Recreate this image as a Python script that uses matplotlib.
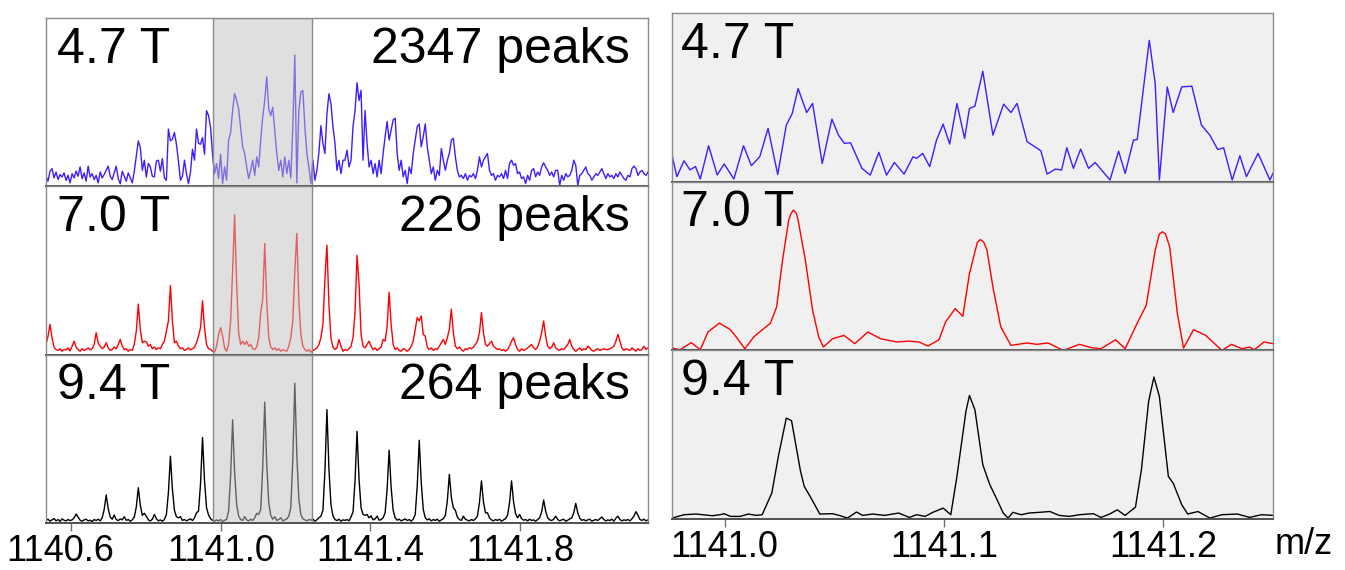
import numpy as np
import matplotlib.pyplot as plt
from matplotlib.transforms import ScaledTranslation

plt.rcParams['font.family'] = ['Liberation Sans', 'DejaVu Sans']

field_labels = ['4.7 T', '7.0 T', '9.4 T']
peak_counts = ['2347 peaks', '226 peaks', '264 peaks']
trace_colors = ['#3c1eff', '#ff0000', '#000000']

left_ticks = [1140.6, 1141.0, 1141.4, 1141.8]
right_ticks = [1141.0, 1141.1, 1141.2]
left_range = (1140.532, 1142.143)
right_range = (1140.976, 1141.250)
zoom_window = (1140.980, 1141.245)

int_47 = [
    0.060, 0.030, 0.090, 0.105, 0.050, 0.085, 0.040, 0.070, 0.055, 0.080,
    0.035, 0.065, 0.020, 0.075, 0.050, 0.090, 0.060, 0.115, 0.045, 0.080,
    0.030, 0.120, 0.055, 0.075, 0.040, 0.065, 0.020, 0.085, 0.050, 0.070,
    0.095, 0.120, 0.060, 0.040, 0.080, 0.120, 0.045, 0.015, 0.090, 0.060,
    0.030, 0.080, 0.050, 0.020, 0.090, 0.180, 0.270, 0.230, 0.095, 0.155,
    0.055, 0.135, 0.115, 0.060, 0.056, 0.150, 0.155, 0.090, 0.165, 0.050,
    0.036, 0.340, 0.270, 0.280, 0.320, 0.250, 0.150, 0.036, 0.060, 0.155,
    0.075, 0.016, 0.085, 0.220, 0.155, 0.340, 0.255, 0.250, 0.290, 0.190,
    0.450, 0.420, 0.350, 0.190, 0.075, 0.135, 0.046, 0.190, 0.016, 0.115,
    0.036, 0.275, 0.320, 0.450, 0.550, 0.510, 0.460, 0.350, 0.235, 0.195,
    0.115, 0.046, 0.095, 0.155, 0.065, 0.175, 0.115, 0.275, 0.410, 0.510,
    0.650, 0.460, 0.420, 0.470, 0.335, 0.195, 0.095, 0.155, 0.056, 0.175,
    0.075, 0.155, 0.050, 0.350, 0.780, 0.020, 0.450, 0.560, 0.570, 0.355,
    0.195, 0.115, 0.016, 0.155, 0.036, 0.095, 0.200, 0.360, 0.255, 0.195,
    0.430, 0.550, 0.490, 0.355, 0.255, 0.095, 0.155, 0.075, 0.155, 0.155,
    0.215, 0.115, 0.155, 0.355, 0.450, 0.615, 0.510, 0.570, 0.155, 0.450,
    0.255, 0.115, 0.155, 0.075, 0.135, 0.056, 0.155, 0.075, 0.195, 0.295,
    0.385, 0.275, 0.335, 0.395, 0.405, 0.195, 0.095, 0.155, 0.056, 0.095,
    0.016, 0.115, 0.075, 0.195, 0.275, 0.355, 0.370, 0.235, 0.295, 0.370,
    0.235, 0.155, 0.075, 0.115, 0.036, 0.095, 0.065, 0.225, 0.155, 0.095,
    0.155, 0.195, 0.275, 0.285, 0.175, 0.095, 0.056, 0.065, 0.046, 0.075,
    0.036, 0.065, 0.056, 0.075, 0.046, 0.095, 0.175, 0.115, 0.155, 0.175,
    0.195, 0.095, 0.065, 0.075, 0.036, 0.065, 0.056, 0.075, 0.046, 0.095,
    0.046, 0.135, 0.155, 0.125, 0.135, 0.075, 0.085, 0.046, 0.056, 0.016,
    0.065, 0.036, 0.095, 0.105, 0.056, 0.085, 0.065, 0.115, 0.140, 0.115,
    0.095, 0.065, 0.085, 0.056, 0.095, 0.095, 0.006, 0.065, 0.036, 0.075,
    0.056, 0.065, 0.095, 0.155, 0.125, 0.006, 0.065, 0.075, 0.095, 0.115,
    0.075, 0.065, 0.036, 0.056, 0.075, 0.065, 0.085, 0.105, 0.075, 0.046,
    0.075, 0.056, 0.065, 0.046, 0.075, 0.056, 0.085, 0.065, 0.046, 0.036,
    0.065, 0.056, 0.105, 0.120, 0.105, 0.065, 0.085, 0.095, 0.075, 0.065,
    0.085,
]
int_70 = [
    0.060, 0.110, 0.180, 0.100, 0.045, 0.030, 0.025, 0.035, 0.020, 0.030,
    0.028, 0.040, 0.022, 0.050, 0.080, 0.045, 0.030, 0.020, 0.035, 0.025,
    0.030, 0.040, 0.028, 0.035, 0.060, 0.130, 0.070, 0.050, 0.035, 0.045,
    0.070, 0.040, 0.025, 0.030, 0.045, 0.035, 0.060, 0.090, 0.050, 0.030,
    0.035, 0.020, 0.030, 0.025, 0.060, 0.140, 0.300, 0.150, 0.070, 0.080,
    0.075, 0.050, 0.060, 0.035, 0.045, 0.030, 0.040, 0.035, 0.060, 0.080,
    0.140, 0.200, 0.410, 0.200, 0.070, 0.080, 0.050, 0.035, 0.040, 0.025,
    0.030, 0.040, 0.028, 0.035, 0.045, 0.070, 0.110, 0.160, 0.320, 0.160,
    0.060, 0.035, 0.030, 0.020, 0.015, 0.050, 0.120, 0.160, 0.110, 0.040,
    0.020, 0.060, 0.200, 0.500, 0.830, 0.420, 0.130, 0.060, 0.080, 0.060,
    0.080, 0.050, 0.060, 0.035, 0.030, 0.045, 0.100, 0.250, 0.330, 0.660,
    0.320, 0.100, 0.045, 0.030, 0.040, 0.025, 0.035, 0.020, 0.030, 0.025,
    0.020, 0.050, 0.100, 0.200, 0.500, 0.720, 0.320, 0.120, 0.050, 0.030,
    0.020, 0.030, 0.015, 0.025, 0.030, 0.040, 0.060, 0.100, 0.180, 0.450,
    0.650, 0.300, 0.100, 0.045, 0.030, 0.040, 0.090, 0.050, 0.020, 0.030,
    0.025, 0.035, 0.050, 0.100, 0.250, 0.590, 0.420, 0.120, 0.050, 0.040,
    0.060, 0.080, 0.050, 0.030, 0.040, 0.025, 0.035, 0.045, 0.090, 0.080,
    0.170, 0.370, 0.180, 0.060, 0.030, 0.040, 0.025, 0.020, 0.035, 0.030,
    0.020, 0.030, 0.050, 0.080, 0.150, 0.220, 0.200, 0.230, 0.120, 0.110,
    0.045, 0.030, 0.040, 0.025, 0.035, 0.030, 0.050, 0.070, 0.090, 0.060,
    0.100, 0.150, 0.270, 0.130, 0.050, 0.035, 0.045, 0.030, 0.020, 0.035,
    0.030, 0.040, 0.035, 0.045, 0.060, 0.080, 0.130, 0.250, 0.130, 0.060,
    0.050, 0.065, 0.080, 0.050, 0.040, 0.030, 0.035, 0.025, 0.030, 0.020,
    0.030, 0.050, 0.080, 0.100, 0.060, 0.030, 0.020, 0.035, 0.025, 0.030,
    0.040, 0.050, 0.060, 0.040, 0.030, 0.045, 0.080, 0.130, 0.200, 0.110,
    0.050, 0.035, 0.045, 0.070, 0.040, 0.030, 0.025, 0.035, 0.030, 0.045,
    0.060, 0.090, 0.050, 0.030, 0.020, 0.030, 0.040, 0.025, 0.035, 0.030,
    0.050, 0.040, 0.025, 0.020, 0.030, 0.035, 0.025, 0.030, 0.035, 0.030,
    0.030, 0.035, 0.040, 0.050, 0.080, 0.120, 0.080, 0.040, 0.025, 0.035,
    0.030, 0.025, 0.040, 0.030, 0.020, 0.035, 0.025, 0.030, 0.050, 0.030,
    0.040,
]
int_94 = [
    0.015, 0.022, 0.010, 0.018, 0.026, 0.012, 0.020, 0.009, 0.024, 0.016,
    0.012, 0.020, 0.014, 0.018, 0.030, 0.053, 0.034, 0.016, 0.010, 0.018,
    0.022, 0.012, 0.016, 0.008, 0.020, 0.014, 0.022, 0.012, 0.030, 0.080,
    0.166, 0.085, 0.035, 0.022, 0.047, 0.020, 0.014, 0.024, 0.018, 0.037,
    0.015, 0.020, 0.010, 0.018, 0.035, 0.095, 0.209, 0.105, 0.045, 0.057,
    0.040, 0.018, 0.012, 0.022, 0.050, 0.025, 0.012, 0.018, 0.010, 0.020,
    0.050, 0.180, 0.396, 0.200, 0.075, 0.037, 0.030, 0.037, 0.015, 0.020,
    0.012, 0.018, 0.024, 0.014, 0.030, 0.060, 0.070, 0.230, 0.507, 0.250,
    0.090, 0.047, 0.025, 0.015, 0.010, 0.018, 0.012, 0.020, 0.008, 0.016,
    0.020, 0.070, 0.280, 0.613, 0.300, 0.110, 0.040, 0.020, 0.015, 0.037,
    0.018, 0.012, 0.022, 0.015, 0.030, 0.057, 0.050, 0.080, 0.330, 0.718,
    0.350, 0.120, 0.045, 0.022, 0.037, 0.015, 0.020, 0.030, 0.012, 0.018,
    0.024, 0.040, 0.090, 0.380, 0.830, 0.400, 0.140, 0.050, 0.025, 0.018,
    0.012, 0.020, 0.016, 0.024, 0.010, 0.018, 0.030, 0.040, 0.075, 0.310,
    0.673, 0.320, 0.110, 0.040, 0.020, 0.014, 0.022, 0.010, 0.018, 0.015,
    0.020, 0.012, 0.035, 0.065, 0.250, 0.544, 0.260, 0.090, 0.050, 0.045,
    0.050, 0.030, 0.042, 0.018, 0.024, 0.040, 0.016, 0.020, 0.030, 0.060,
    0.200, 0.432, 0.210, 0.075, 0.030, 0.016, 0.022, 0.012, 0.018, 0.024,
    0.014, 0.020, 0.010, 0.022, 0.050, 0.220, 0.491, 0.240, 0.080, 0.030,
    0.018, 0.024, 0.012, 0.020, 0.015, 0.022, 0.010, 0.018, 0.025, 0.045,
    0.130, 0.288, 0.150, 0.090, 0.075, 0.035, 0.020, 0.015, 0.040, 0.022,
    0.016, 0.012, 0.020, 0.014, 0.025, 0.040, 0.120, 0.250, 0.125, 0.060,
    0.060, 0.030, 0.018, 0.012, 0.020, 0.015, 0.022, 0.010, 0.018, 0.025,
    0.045, 0.120, 0.250, 0.125, 0.055, 0.030, 0.050, 0.025, 0.016, 0.020,
    0.012, 0.022, 0.015, 0.018, 0.010, 0.020, 0.030, 0.065, 0.136, 0.070,
    0.030, 0.018, 0.014, 0.022, 0.040, 0.020, 0.012, 0.018, 0.022, 0.010,
    0.016, 0.024, 0.030, 0.060, 0.116, 0.060, 0.028, 0.015, 0.020, 0.012,
    0.018, 0.022, 0.010, 0.016, 0.020, 0.014, 0.025, 0.035, 0.020, 0.012,
    0.018, 0.014, 0.022, 0.010, 0.028, 0.040, 0.020, 0.012, 0.018, 0.015,
    0.020, 0.012, 0.025, 0.040, 0.067, 0.045, 0.020, 0.015, 0.022, 0.012,
    0.018,
]

# zoomed traces, right column (vertices)
mz_47_zoom = [
    1140.9760, 1140.9782, 1140.9815, 1140.9842, 1140.9867, 1140.9889, 1140.9927, 1140.9966,
    1140.9998, 1141.0042, 1141.0086, 1141.0122, 1141.0160, 1141.0198, 1141.0242, 1141.0281,
    1141.0308, 1141.0335, 1141.0374, 1141.0401, 1141.0445, 1141.0489, 1141.0519, 1141.0546,
    1141.0574, 1141.0626, 1141.0664, 1141.0703, 1141.0738, 1141.0774, 1141.0818, 1141.0859,
    1141.0875, 1141.0903, 1141.0935, 1141.0966, 1141.0996, 1141.1026, 1141.1059, 1141.1094,
    1141.1116, 1141.1141, 1141.1177, 1141.1223, 1141.1272, 1141.1305, 1141.1333, 1141.1379,
    1141.1442, 1141.1470, 1141.1508, 1141.1536, 1141.1560, 1141.1590, 1141.1623, 1141.1659,
    1141.1689, 1141.1757, 1141.1796, 1141.1826, 1141.1864, 1141.1881, 1141.1936, 1141.1963,
    1141.1982, 1141.2018, 1141.2045, 1141.2084, 1141.2130, 1141.2174, 1141.2212, 1141.2248,
    1141.2275, 1141.2314, 1141.2349, 1141.2379, 1141.2432, 1141.2486, 1141.2500,
]
int_47_zoom = [
    0.158, 0.030, 0.124, 0.070, 0.090, 0.016, 0.213, 0.040,
    0.105, 0.016, 0.213, 0.095, 0.148, 0.316, 0.043, 0.335,
    0.404, 0.552, 0.410, 0.464, 0.108, 0.371, 0.276, 0.227,
    0.231, 0.079, 0.039, 0.174, 0.039, 0.114, 0.045, 0.148,
    0.138, 0.168, 0.089, 0.247, 0.341, 0.223, 0.464, 0.256,
    0.434, 0.448, 0.655, 0.276, 0.460, 0.410, 0.464, 0.237,
    0.183, 0.045, 0.075, 0.069, 0.201, 0.079, 0.193, 0.079,
    0.114, 0.010, 0.181, 0.049, 0.247, 0.250, 0.838, 0.582,
    0.010, 0.562, 0.410, 0.562, 0.566, 0.335, 0.276, 0.191,
    0.201, 0.010, 0.154, 0.030, 0.168, 0.010, 0.050,
]
mz_70_zoom = [
    1140.9760, 1140.9796, 1140.9848, 1140.9889, 1140.9924, 1140.9976, 1141.0026, 1141.0053,
    1141.0092, 1141.0135, 1141.0209, 1141.0237, 1141.0264, 1141.0292, 1141.0303, 1141.0313,
    1141.0327, 1141.0335, 1141.0368, 1141.0401, 1141.0429, 1141.0450, 1141.0492, 1141.0544,
    1141.0593, 1141.0653, 1141.0711, 1141.0785, 1141.0840, 1141.0886, 1141.0927, 1141.0977,
    1141.1007, 1141.1051, 1141.1086, 1141.1116, 1141.1152, 1141.1166, 1141.1182, 1141.1196,
    1141.1223, 1141.1259, 1141.1305, 1141.1379, 1141.1423, 1141.1475, 1141.1544, 1141.1618,
    1141.1673, 1141.1716, 1141.1782, 1141.1826, 1141.1881, 1141.1922, 1141.1963, 1141.1982,
    1141.1996, 1141.2010, 1141.2029, 1141.2064, 1141.2092, 1141.2138, 1141.2193, 1141.2267,
    1141.2311, 1141.2358, 1141.2393, 1141.2415, 1141.2459, 1141.2500,
]
int_70_zoom = [
    0.014, 0.004, 0.046, 0.004, 0.109, 0.162, 0.123, 0.079,
    0.010, 0.083, 0.162, 0.257, 0.535, 0.772, 0.812, 0.832,
    0.812, 0.772, 0.535, 0.238, 0.079, 0.020, 0.069, 0.089,
    0.040, 0.109, 0.069, 0.050, 0.055, 0.050, 0.026, 0.063,
    0.168, 0.248, 0.202, 0.455, 0.640, 0.657, 0.640, 0.594,
    0.376, 0.139, 0.030, 0.044, 0.036, 0.044, 0.000, 0.036,
    0.016, 0.010, 0.063, 0.010, 0.162, 0.267, 0.594, 0.690,
    0.703, 0.690, 0.614, 0.218, 0.014, 0.123, 0.089, 0.000,
    0.036, 0.010, 0.020, 0.004, 0.050, 0.040,
]
mz_94_zoom = [
    1140.9760, 1140.9815, 1140.9870, 1140.9944, 1140.9979, 1140.9998, 1141.0026, 1141.0070,
    1141.0108, 1141.0144, 1141.0171, 1141.0215, 1141.0245, 1141.0281, 1141.0305, 1141.0346,
    1141.0363, 1141.0390, 1141.0434, 1141.0492, 1141.0527, 1141.0560, 1141.0601, 1141.0629,
    1141.0675, 1141.0730, 1141.0793, 1141.0842, 1141.0875, 1141.0914, 1141.0949, 1141.0996,
    1141.1031, 1141.1059, 1141.1100, 1141.1116, 1141.1141, 1141.1177, 1141.1209, 1141.1242,
    1141.1270, 1141.1292, 1141.1314, 1141.1352, 1141.1388, 1141.1434, 1141.1483, 1141.1525,
    1141.1571, 1141.1618, 1141.1681, 1141.1716, 1141.1755, 1141.1790, 1141.1826, 1141.1873,
    1141.1900, 1141.1933, 1141.1957, 1141.1982, 1141.2023, 1141.2045, 1141.2084, 1141.2111,
    1141.2158, 1141.2212, 1141.2267, 1141.2338, 1141.2393, 1141.2448, 1141.2500,
]
int_94_zoom = [
    0.006, 0.026, 0.030, 0.020, 0.026, 0.032, 0.016, 0.016,
    0.030, 0.022, 0.026, 0.154, 0.372, 0.599, 0.583, 0.283,
    0.194, 0.134, 0.030, 0.032, 0.020, 0.006, 0.042, 0.022,
    0.030, 0.022, 0.036, 0.010, 0.026, 0.016, 0.040, 0.065,
    0.026, 0.253, 0.638, 0.733, 0.648, 0.322, 0.204, 0.115,
    0.036, 0.006, 0.040, 0.026, 0.036, 0.040, 0.045, 0.022,
    0.016, 0.026, 0.032, 0.010, 0.030, 0.055, 0.022, 0.071,
    0.292, 0.698, 0.842, 0.727, 0.253, 0.213, 0.085, 0.030,
    0.045, 0.006, 0.026, 0.030, 0.010, 0.026, 0.022,
]

full_traces = [int_47, int_70, int_94]
zoom_traces = [(mz_47_zoom, int_47_zoom), (mz_70_zoom, int_70_zoom), (mz_94_zoom, int_94_zoom)]

W, H = 1345, 570
fig = plt.figure(figsize=(W / 100, H / 100), dpi=100)


def add_px_axes(x0, top, w, h):
    return fig.add_axes([x0 / W, 1 - (top + h) / H, w / W, h / H])


def style_panel(ax, bg):
    ax.set_facecolor(bg)
    ax.set_ylim(0, 1)
    ax.set_yticks([])
    for s in ax.spines.values():
        s.set_color('#8c8c8c')
        s.set_linewidth(1.0)
    ax.spines['bottom'].set_color('#505050')
    ax.spines['bottom'].set_linewidth(1.4)
    ax.spines['bottom'].set_zorder(6)
    ax.tick_params(axis='x', direction='out', length=6, width=1.0,
                   color='#707070', labelsize=26, pad=2)


for k in range(3):
    # left column: whole isotope envelope
    ax = add_px_axes(46, 18 + 168.3 * k, 602, 168.3)
    style_panel(ax, 'white')
    mz = np.linspace(left_range[0], left_range[1], len(full_traces[k]))
    ax.plot(mz, full_traces[k], color=trace_colors[k], lw=1.0, zorder=2)
    ax.axvspan(zoom_window[0], zoom_window[1], facecolor=(0.757, 0.757, 0.757, 0.5),
               edgecolor='#8a8a8a', lw=1.0, zorder=3)
    ax.set_xlim(*left_range)
    if k == 2:
        ax.set_xticks(left_ticks)
        labels = ax.set_xticklabels(['%.1f' % t for t in left_ticks])
        # first label sits a little left of its tick in the original
        labels[0].set_transform(labels[0].get_transform()
                                + ScaledTranslation(-0.11, 0, fig.dpi_scale_trans))
    else:
        ax.set_xticks([])
    ax.text(0.018, 0.735, field_labels[k], transform=ax.transAxes, fontsize=36,
            ha='left', va='baseline', zorder=5)
    ax.text(0.970, 0.735, peak_counts[k], transform=ax.transAxes, fontsize=36,
            ha='right', va='baseline', zorder=5)

    # right column: zoom on three isotope peaks
    ax = add_px_axes(672, 13 + 168.7 * k, 601, 168.7)
    style_panel(ax, '#f0f0f0')
    ax.plot(zoom_traces[k][0], zoom_traces[k][1], color=trace_colors[k], lw=1.0, zorder=2)
    ax.set_xlim(*right_range)
    if k == 2:
        ax.set_xticks(right_ticks)
        ax.set_xticklabels(['%.1f' % t for t in right_ticks])
        ax.annotate('m/z', xy=(1.0, 0.0), xycoords='axes fraction', xytext=(1, -6),
                    textcoords='offset points', fontsize=26, ha='left', va='top')
    else:
        ax.set_xticks([])
    ax.text(0.015, 0.735, field_labels[k], transform=ax.transAxes, fontsize=36,
            ha='left', va='baseline', zorder=5)

fig.savefig('out.png', dpi=100)
